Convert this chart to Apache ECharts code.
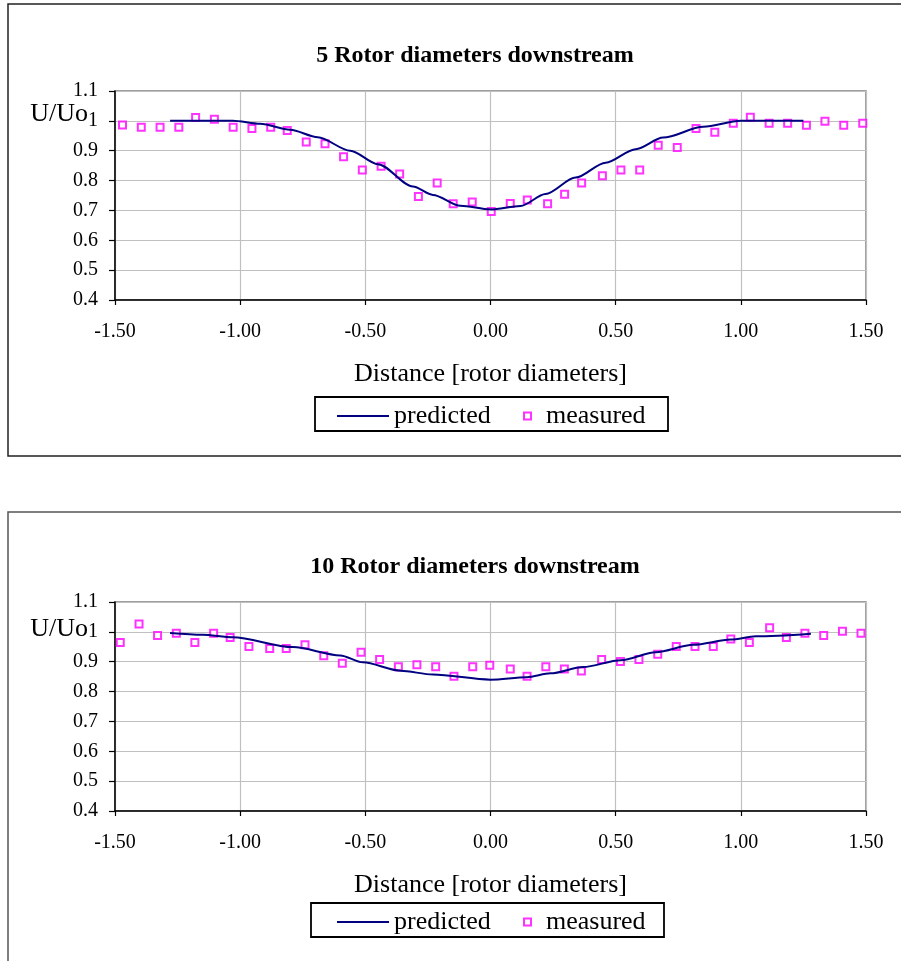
<!DOCTYPE html>
<html>
<head>
<meta charset="utf-8">
<script src="https://cdn.jsdelivr.net/npm/echarts@6/dist/echarts.min.js"></script>
<style>
  html, body { margin: 0; padding: 0; background: #fff; }
  #main { width: 901px; height: 961px; }
</style>
</head>
<body>
<div id="main"></div>
<script>
var myChart = echarts.init(document.getElementById('main'));

// 5 rotor diameters downstream
var topMeasX = [-1.47, -1.395, -1.32, -1.245, -1.178, -1.103, -1.028, -0.953, -0.878, -0.812,
  -0.736, -0.661, -0.587, -0.512, -0.437, -0.363, -0.288, -0.213, -0.149, -0.073,
  0.003, 0.079, 0.147, 0.228, 0.296, 0.364, 0.447, 0.521, 0.596, 0.670,
  0.746, 0.821, 0.896, 0.970, 1.038, 1.113, 1.187, 1.262, 1.336, 1.411, 1.487];
var topMeasY = [0.986, 0.979, 0.979, 0.979, 1.011, 1.005, 0.979, 0.974, 0.979, 0.968,
  0.929, 0.923, 0.880, 0.835, 0.848, 0.822, 0.747, 0.792, 0.722, 0.728,
  0.696, 0.723, 0.735, 0.722, 0.754, 0.792, 0.816, 0.835, 0.835, 0.918,
  0.911, 0.974, 0.962, 0.992, 1.012, 0.992, 0.992, 0.985, 0.999, 0.985, 0.992];
var topPredX = [-1.28, -1.15, -1.03, -0.92, -0.80, -0.69, -0.56, -0.45, -0.31, -0.23, -0.12,
  0.00, 0.12, 0.22, 0.34, 0.46, 0.58, 0.69, 0.85, 1.00, 1.12, 1.25];
var topPredY = [1.0, 1.0, 1.0, 0.99, 0.97, 0.945, 0.90, 0.855, 0.78, 0.752, 0.716,
  0.703, 0.715, 0.755, 0.81, 0.86, 0.905, 0.944, 0.98, 1.0, 1.0, 1.0];

// 10 rotor diameters downstream
var botMeasX = [-1.479, -1.404, -1.33, -1.255, -1.181, -1.106, -1.04, -0.965, -0.882, -0.816,
  -0.741, -0.666, -0.592, -0.517, -0.443, -0.368, -0.294, -0.219, -0.146, -0.071,
  -0.003, 0.079, 0.146, 0.221, 0.295, 0.363, 0.444, 0.519, 0.593, 0.668,
  0.742, 0.817, 0.89, 0.96, 1.034, 1.115, 1.182, 1.256, 1.331, 1.406, 1.48];
var botMeasY = [0.964, 1.026, 0.988, 0.995, 0.964, 0.995, 0.981, 0.951, 0.944, 0.944,
  0.957, 0.920, 0.895, 0.932, 0.907, 0.883, 0.890, 0.883, 0.851, 0.883,
  0.888, 0.876, 0.851, 0.883, 0.876, 0.869, 0.907, 0.901, 0.907, 0.925,
  0.951, 0.951, 0.951, 0.976, 0.964, 1.014, 0.981, 0.995, 0.988, 1.002, 0.995];
var botPredX = [-1.28, -1.15, -1.03, -0.79, -0.60, -0.51, -0.36, -0.23, 0.0, 0.145, 0.24,
  0.37, 0.52, 0.66, 0.81, 0.96, 1.06, 1.28];
var botPredY = [0.996, 0.99, 0.982, 0.949, 0.921, 0.898, 0.87, 0.857, 0.84, 0.848, 0.861,
  0.882, 0.905, 0.932, 0.957, 0.974, 0.985, 0.994];

var titles = ['5 Rotor diameters downstream', '10 Rotor diameters downstream'];

function pairs(xs, ys) {
  return xs.map(function (x, i) { return [x, ys[i]]; });
}

var serif = 'Liberation Serif';
var gridTops = [91, 602];

function xAxisFor(i) {
  return {
    type: 'value', gridIndex: i, min: -1.5, max: 1.5, interval: 0.5,
    name: 'Distance [rotor diameters]', nameLocation: 'middle', nameGap: 61,
    nameTextStyle: { fontFamily: serif, fontSize: 26, color: '#000' },
    axisLine: { onZero: false, lineStyle: { color: '#000', width: 1.5 } },
    axisTick: { length: 5, lineStyle: { color: '#000', width: 1.2 } },
    axisLabel: {
      margin: 22, fontFamily: serif, fontSize: 20, color: '#000',
      formatter: function (v) { return v.toFixed(2); }
    },
    splitLine: { lineStyle: { color: '#c0c0c0', width: 1.2 } }
  };
}

function yAxisFor(i) {
  return {
    type: 'value', gridIndex: i, min: 0.4, max: 1.1, interval: 0.1,
    axisLine: { show: true, onZero: false, lineStyle: { color: '#000', width: 1.5 } },
    axisTick: { show: true, length: 6, lineStyle: { color: '#000', width: 1.2 } },
    axisLabel: { margin: 17, fontFamily: serif, fontSize: 20, color: '#000' },
    splitLine: { lineStyle: { color: '#c0c0c0', width: 1.2 } }
  };
}

function legendsFor(i) {
  var off = i === 0 ? 0 : 506;
  return [
    {
      data: [{ name: 'predicted', icon: 'rect' }], left: 337, top: 403 + off, padding: 0,
      itemWidth: 52, itemHeight: 2,
      textStyle: { fontFamily: serif, fontSize: 26, color: '#000' }
    },
    {
      data: ['measured'], left: 523, top: 403 + off, padding: 0,
      itemWidth: 7, itemHeight: 7,
      textStyle: { fontFamily: serif, fontSize: 26, color: '#000', padding: [0, 0, 0, 10] }
    }
  ];
}

var lineStyle = { color: '#000080', width: 2 };
var markStyle = { color: '#fff', borderColor: '#ff00ff', borderWidth: 2 };

var option = {
  animation: false,
  backgroundColor: '#fff',
  title: titles.map(function (t, i) {
    return {
      text: t, left: 470, top: gridTops[i] - 52, textAlign: 'center',
      textStyle: { fontFamily: serif, fontSize: 24, fontWeight: 'bold', color: '#000' }
    };
  }),
  legend: legendsFor(0).concat(legendsFor(1)),
  grid: gridTops.map(function (t) {
    return { left: 115, top: t, width: 751, height: 209, show: true,
      backgroundColor: '#fff', borderColor: '#808080', borderWidth: 1.5 };
  }),
  xAxis: [xAxisFor(0), xAxisFor(1)],
  yAxis: [yAxisFor(0), yAxisFor(1)],
  series: [
    { name: 'predicted', type: 'line', xAxisIndex: 0, yAxisIndex: 0, data: pairs(topPredX, topPredY),
      symbol: 'none', smooth: 0.3, smoothMonotone: 'x', lineStyle: lineStyle, itemStyle: { color: '#000080' } },
    { name: 'measured', type: 'scatter', xAxisIndex: 0, yAxisIndex: 0, data: pairs(topMeasX, topMeasY),
      symbol: 'rect', symbolSize: 7, itemStyle: markStyle },
    { name: 'predicted', type: 'line', xAxisIndex: 1, yAxisIndex: 1, data: pairs(botPredX, botPredY),
      symbol: 'none', smooth: 0.3, smoothMonotone: 'x', lineStyle: lineStyle, itemStyle: { color: '#000080' } },
    { name: 'measured', type: 'scatter', xAxisIndex: 1, yAxisIndex: 1, data: pairs(botMeasX, botMeasY),
      symbol: 'rect', symbolSize: 7, itemStyle: markStyle }
  ],
  graphic: [
    // chart frames
    { type: 'rect', z: -10, silent: true, shape: { x: 8, y: 4, width: 1000, height: 452 },
      style: { fill: 'none', stroke: '#222', lineWidth: 1.5 } },
    { type: 'rect', z: -10, silent: true, shape: { x: 8, y: 512, width: 1000, height: 600 },
      style: { fill: 'none', stroke: '#555', lineWidth: 1.5 } },
    // legend frames
    { type: 'rect', z: -5, silent: true, shape: { x: 315, y: 397, width: 353, height: 34 },
      style: { fill: '#fff', stroke: '#000', lineWidth: 1.8 } },
    { type: 'rect', z: -5, silent: true, shape: { x: 311, y: 903, width: 353, height: 34 },
      style: { fill: '#fff', stroke: '#000', lineWidth: 1.8 } },
    // y axis names
    { type: 'text', right: 813, top: 101,
      style: { text: 'U/Uo', font: '26px "Liberation Serif"', fill: '#000' } },
    { type: 'text', right: 813, top: 616,
      style: { text: 'U/Uo', font: '26px "Liberation Serif"', fill: '#000' } }
  ]
};

myChart.setOption(option);

window.onresize = function () {
  myChart.resize();
};
</script>
</body>
</html>
